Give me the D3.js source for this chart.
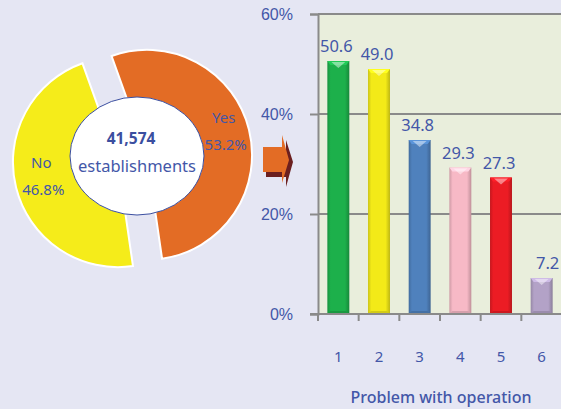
<!DOCTYPE html>
<html>
<head>
    <meta charset="utf-8">
    <script src="https://d3js.org/d3.v7.min.js"></script>
    <style>
        body { margin: 0; background: #e5e6f3; }
        svg { display: block; font-family: "Noto Sans", "DejaVu Sans", sans-serif; }
    </style>
</head>
<body>
    <svg width="561" height="409" id="mainSvg"></svg>
    <script>
        // bar chart data
        const categories = ["1", "2", "3", "4", "5", "6"];
        const values = [50.6, 49.0, 34.8, 29.3, 27.3, 7.2];
        const barColors = ["#1db04b", "#f3ea18", "#4f81bd", "#f7b9c6", "#ec1c24", "#b3a2c7"];
        const yTicks = [0, 20, 40, 60];

        // pie data
        const pieLabels = ["Yes", "No"];
        const pieValues = [53.2, 46.8];
        const pieColors = ["#e36c25", "#f5ec1a"];
        const total = "41,574";

        const textColor = "#4357a8";
        const svg = d3.select("#mainSvg");

        const defs = svg.append("defs");

        // ---------- bar chart ----------
        const x = d3.scaleBand().domain(categories).range([318, 562])
            .paddingInner(0.46).paddingOuter(0.23);
        const y = d3.scaleLinear().domain([0, 60]).range([314, 14]);

        svg.append("rect").attr("x", 318).attr("y", y(60))
            .attr("width", 561 - 318).attr("height", y(0) - y(60))
            .attr("fill", "#e9eedc");

        const gy = svg.append("g").attr("transform", "translate(318,0)")
            .call(d3.axisLeft(y).tickValues(yTicks).tickSize(8).tickFormat(d => d + "%"));
        gy.select(".domain").attr("stroke", "#8a8a8a").attr("stroke-width", 2);
        gy.selectAll(".tick line").attr("stroke", "#8a8a8a").attr("stroke-width", 2);
        gy.selectAll(".tick text").attr("fill", textColor).attr("font-size", 16)
            .attr("x", -25);

        // gridlines
        svg.append("g").selectAll("line").data(yTicks.filter(d => d > 0)).join("line")
            .attr("x1", 318).attr("x2", 561)
            .attr("y1", d => y(d)).attr("y2", d => y(d))
            .attr("stroke", "#8a8a8a").attr("stroke-width", 2);

        // bars
        barColors.forEach((c, i) => {
            const gr = defs.append("linearGradient").attr("id", "bg" + i)
                .attr("x1", 0).attr("x2", 1).attr("y1", 0).attr("y2", 0);
            gr.append("stop").attr("offset", "0%").attr("stop-color", d3.color(c).darker(0.5));
            gr.append("stop").attr("offset", "15%").attr("stop-color", c);
            gr.append("stop").attr("offset", "80%").attr("stop-color", c);
            gr.append("stop").attr("offset", "100%").attr("stop-color", d3.color(c).darker(0.7));
        });

        const bars = svg.append("g").selectAll("g").data(values).join("g");
        bars.append("rect")
            .attr("x", (d, i) => x(categories[i]))
            .attr("y", d => y(d))
            .attr("width", x.bandwidth())
            .attr("height", d => y(0) - y(d))
            .attr("fill", (d, i) => `url(#bg${i})`);
        // top bevel
        bars.append("path")
            .attr("d", (d, i) => {
                const x0 = x(categories[i]), x1 = x0 + x.bandwidth(), t = y(d);
                return `M${x0},${t}L${x1},${t}L${x1 - 3},${t + 4}L${x0 + 3},${t + 4}Z`;
            })
            .attr("fill", (d, i) => d3.color(barColors[i]).brighter(0.4));
        bars.append("path")
            .attr("d", (d, i) => {
                const x0 = x(categories[i]), w = x.bandwidth(), t = y(d);
                return `M${x0 + 4},${t + 1}L${x0 + w - 4},${t + 1}L${x0 + w / 2},${t + 7}Z`;
            })
            .attr("fill", "#ffffff").attr("opacity", 0.45);
        // bottom bevel
        bars.append("path")
            .attr("d", (d, i) => {
                const x0 = x(categories[i]), w = x.bandwidth(), b = y(0);
                return `M${x0 + 3},${b - 3}L${x0 + w - 3},${b - 3}L${x0 + w},${b}L${x0},${b}Z`;
            })
            .attr("fill", (d, i) => d3.color(barColors[i]).darker(0.4));

        // value labels
        svg.append("g").selectAll("text").data(values).join("text")
            .attr("x", (d, i) => x(categories[i]) + x.bandwidth() / 2 + (i === 5 ? 6 : -2))
            .attr("y", d => y(d) - 9)
            .attr("text-anchor", "middle")
            .attr("fill", textColor).attr("font-size", 16.5)
            .text(d => d.toFixed(1));

        // x axis
        const gx = svg.append("g").attr("transform", `translate(0,${y(0)})`);
        gx.append("line").attr("x1", 310).attr("x2", 561)
            .attr("stroke", "#8a8a8a").attr("stroke-width", 2);
        gx.selectAll(".tk").data(categories).join("line").attr("class", "tk")
            .attr("x1", d => x(d) - x.step() * x.paddingInner() / 2)
            .attr("x2", d => x(d) - x.step() * x.paddingInner() / 2)
            .attr("y1", 0).attr("y2", 7)
            .attr("stroke", "#8a8a8a").attr("stroke-width", 2);
        gx.selectAll(".lb").data(categories).join("text").attr("class", "lb")
            .attr("x", d => x(d) + x.bandwidth() / 2)
            .attr("y", 48)
            .attr("text-anchor", "middle")
            .attr("fill", textColor).attr("font-size", 15)
            .text(d => d);

        svg.append("text").attr("x", 441).attr("y", 403)
            .attr("text-anchor", "middle").attr("fill", textColor)
            .attr("font-size", 16).attr("font-weight", 500)
            .text("Problem with operation");

        // ---------- arrow ----------
        const arrow = svg.append("g");
        arrow.append("path")
            .attr("d", "M266,152L286,152L286,140L293,162L286,187L286,177L266,177Z")
            .attr("fill", "#6b1f1f");
        arrow.append("path")
            .attr("d", "M263,147L282,147L282,135L289,160L282,183L282,172L263,172Z")
            .attr("fill", "#e36c25");

        // ---------- pie ----------
        const startA = -19.75 * Math.PI / 180;
        const pie = d3.pie().sort(null).startAngle(startA).endAngle(startA + 2 * Math.PI);
        const arcs = pie(pieValues);
        const arc = d3.arc().innerRadius(0).outerRadius(105);
        const labelArc = d3.arc().innerRadius(79).outerRadius(79);
        const cx = 132.5, cy = 158.5, explode = 15;

        const pg = svg.append("g");
        const slices = pg.selectAll("g").data(arcs).join("g")
            .attr("transform", d => {
                const a = (d.startAngle + d.endAngle) / 2;
                return `translate(${cx + explode * Math.sin(a)},${cy - explode * Math.cos(a)})`;
            });
        slices.append("path").attr("d", arc)
            .attr("fill", (d, i) => pieColors[i])
            .attr("stroke", "#ffffff").attr("stroke-width", 2);
        slices.append("text")
            .attr("transform", d => `translate(${labelArc.centroid(d)})`)
            .attr("text-anchor", "middle").attr("fill", textColor).attr("font-size", 15)
            .selectAll("tspan").data((d, i) => [pieLabels[i], pieValues[i].toFixed(1) + "%"]).join("tspan")
            .attr("x", (d, j) => j === 0 ? 0 : 2).attr("dy", (d, j) => j === 0 ? -13 : 27)
            .text(d => d);

        pg.append("ellipse").attr("cx", 137).attr("cy", 156).attr("rx", 67).attr("ry", 59)
            .attr("fill", "#ffffff").attr("stroke", "#3b4fa0").attr("stroke-width", 1);
        pg.append("text").attr("x", 131).attr("y", 144).attr("text-anchor", "middle")
            .attr("fill", "#3b4fa0").attr("font-size", 15.5).attr("font-weight", "bold")
            .text(total);
        pg.append("text").attr("x", 137).attr("y", 172).attr("text-anchor", "middle")
            .attr("fill", textColor).attr("font-size", 16.5)
            .text("establishments");
    </script>
</body>
</html>
